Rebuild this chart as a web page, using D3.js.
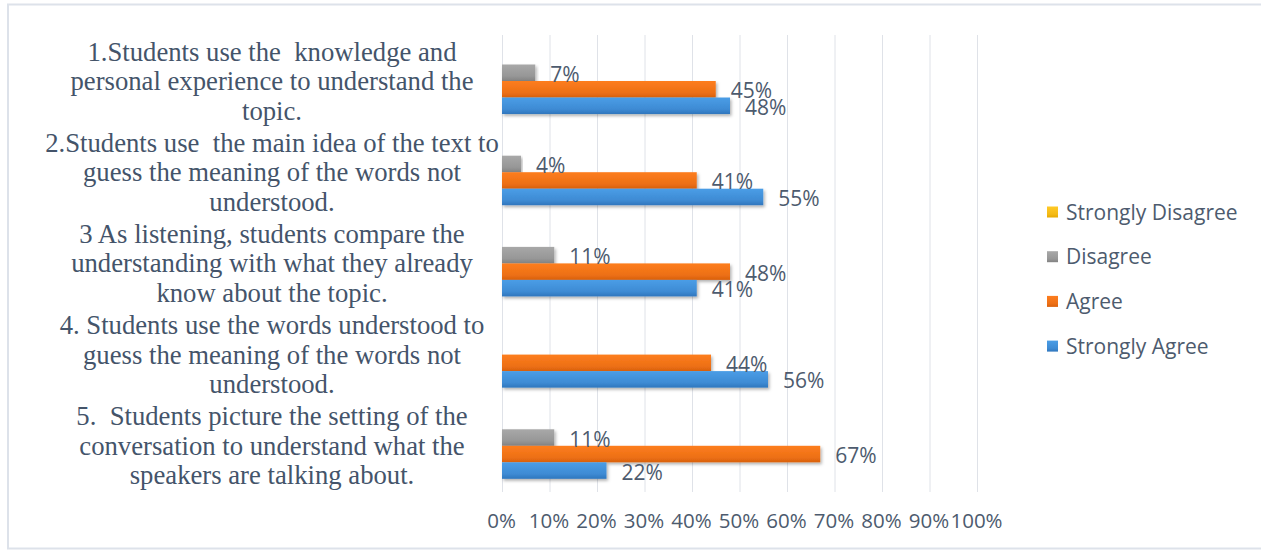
<!DOCTYPE html>
<html>
<head>
<meta charset="utf-8">
<script src="https://cdn.jsdelivr.net/npm/d3@7/dist/d3.min.js"></script>
<style>
  html, body { margin: 0; padding: 0; background: #fff; }
  svg { display: block; }
  .cat { font-family: "Liberation Serif", "Times New Roman", serif; font-size: 26.7px; fill: #44546a; white-space: pre; }
  .val, .leg { font-family: "Open Sans", "Liberation Sans", sans-serif; font-size: 21px; fill: #4d5b6e; }
  .tick text { font-family: "Open Sans", "Liberation Sans", sans-serif; font-size: 20.5px; fill: #4d5b6e; }
</style>
</head>
<body>
<svg id="chart" width="1261" height="550"></svg>
<script>
// Survey statements (top to bottom), each already broken into display lines
const categories = ["Q1", "Q2", "Q3", "Q4", "Q5"];
const categoryLines = [
  ["1.Students use the  knowledge and", "personal experience to understand the", "topic."],
  ["2.Students use  the main idea of the text to", "guess the meaning of the words not", "understood."],
  ["3 As listening, students compare the", "understanding with what they already", "know about the topic."],
  ["4. Students use the words understood to", "guess the meaning of the words not", "understood."],
  ["5.  Students picture the setting of the", "conversation to understand what the", "speakers are talking about."]
];

// Response shares (percent); null = no bar / no label
const seriesNames = ["Strongly Disagree", "Disagree", "Agree", "Strongly Agree"];
const stronglyDisagree = [null, null, null, null, null];
const disagree = [7, 4, 11, null, 11];
const agree = [45, 41, 48, 44, 67];
const stronglyAgree = [48, 55, 41, 56, 22];

const tickValues = [0, 10, 20, 30, 40, 50, 60, 70, 80, 90, 100];

const seriesValues = [stronglyDisagree, disagree, agree, stronglyAgree];
const palette = {
  "Strongly Disagree": ["#ffc926", "#e6a800"],
  "Disagree": ["#a8a8a8", "#828282"],
  "Agree": ["#fd7d1e", "#d9600c"],
  "Strongly Agree": ["#4a9de6", "#2f76bd"]
};

const svg = d3.select("#chart");
const defs = svg.append("defs");

seriesNames.forEach((name, i) => {
  const g = defs.append("linearGradient")
    .attr("id", "grad" + i).attr("x1", 0).attr("y1", 0).attr("x2", 0).attr("y2", 1);
  g.append("stop").attr("offset", "0%").attr("stop-color", palette[name][0]);
  g.append("stop").attr("offset", "70%").attr("stop-color", d3.interpolateRgb(palette[name][0], palette[name][1])(0.45));
  g.append("stop").attr("offset", "100%").attr("stop-color", palette[name][1]);
});

const shadow = defs.append("filter").attr("id", "shadow")
  .attr("x", "-5%").attr("y", "-30%").attr("width", "115%").attr("height", "190%");
shadow.append("feDropShadow").attr("dx", 1.5).attr("dy", 2).attr("stdDeviation", 1.6)
  .attr("flood-color", "#000").attr("flood-opacity", 0.3);

// chart frame
svg.append("rect")
  .attr("x", 8).attr("y", 4.5).attr("width", 1300).attr("height", 544)
  .attr("fill", "none").attr("stroke", "#dde2ea").attr("stroke-width", 2);

const x = d3.scaleLinear().domain([0, 100]).range([502, 977]);
const y = d3.scaleBand().domain(categories).range([35.4, 491.4])
  .paddingInner(0.276).paddingOuter(0.138);
const ySeries = d3.scaleBand().domain(seriesNames).range([0, y.bandwidth()]).padding(0);

// vertical gridlines + tick labels
const xAxis = d3.axisBottom(x).tickValues(tickValues).tickFormat(d => d + "%").tickSize(0).tickPadding(0);
const axisG = svg.append("g").attr("class", "tick-axis").attr("transform", "translate(0,513)").call(xAxis);
axisG.select(".domain").remove();
axisG.selectAll("text").attr("dy", "0.71em").attr("y", 0).attr("dx", -1);

svg.append("g").selectAll("line").data(tickValues).join("line")
  .attr("x1", d => x(d) + 0.5).attr("x2", d => x(d) + 0.5)
  .attr("y1", 35).attr("y2", 492)
  .attr("stroke", "#dfe2e8").attr("stroke-width", 1);

// bars
const groups = svg.append("g").selectAll("g").data(categories).join("g")
  .attr("transform", d => `translate(0,${y(d)})`);

groups.each(function (cat, ci) {
  const g = d3.select(this);
  const items = seriesNames.map((s, si) => ({ s, si, v: seriesValues[si][ci] }))
    .filter(d => d.v !== null);
  g.selectAll("rect").data(items).join("rect")
    .attr("x", x(0))
    .attr("y", d => ySeries(d.s))
    .attr("width", d => x(d.v) - x(0))
    .attr("height", ySeries.bandwidth())
    .attr("fill", d => `url(#grad${d.si})`)
    .attr("filter", "url(#shadow)");
  g.selectAll("text.val").data(items).join("text")
    .attr("class", "val")
    .attr("x", d => x(d.v) + 15)
    .attr("y", d => ySeries(d.s) + ySeries.bandwidth() / 2 + 9)
    .text(d => d.v + "%");
});

// category labels (centered, three lines)
const labelG = svg.append("g").selectAll("text").data(categories).join("text")
  .attr("class", "cat")
  .attr("text-anchor", "middle");
labelG.each(function (cat, ci) {
  const t = d3.select(this);
  const cy = y(cat) + y.bandwidth() / 2;
  categoryLines[ci].forEach((line, li) => {
    t.append("tspan")
      .attr("x", 272)
      .attr("y", cy + 9 + (li - 1) * 29.5)
      .text(line);
  });
});

// legend (Strongly Disagree on top)
const legend = svg.append("g").selectAll("g").data(seriesNames).join("g")
  .attr("transform", (d, i) => `translate(1047,${212 + i * 44.7})`);
legend.append("rect")
  .attr("x", 0).attr("y", -5.5).attr("width", 11).attr("height", 11)
  .attr("fill", (d, i) => `url(#grad${i})`);
legend.append("text").attr("class", "leg")
  .attr("x", 19).attr("y", 7.5).text(d => d);
</script>
</body>
</html>
